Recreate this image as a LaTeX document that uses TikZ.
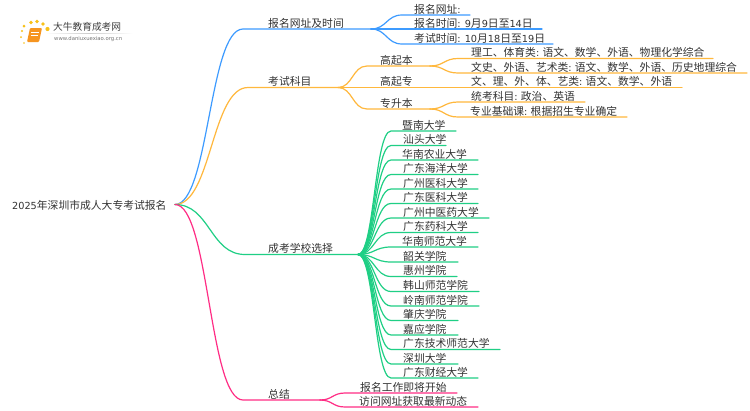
\documentclass[tikz,border=0pt]{standalone}
\usepackage{fontspec}
\usetikzlibrary{calc}
\setmainfont{Noto Sans CJK SC}
\newfontfamily\lat[Scale=0.9]{DejaVu Sans}
\newfontfamily\latlogo{DejaVu Sans}
\definecolor{cblue}{HTML}{3D9BFF}
\definecolor{corange}{HTML}{FFB83D}
\definecolor{cgreen}{HTML}{1FCF85}
\definecolor{cpink}{HTML}{FF2D85}
\definecolor{ctext}{HTML}{333333}
\definecolor{clogo}{HTML}{F5A623}
\tikzset{
  lab/.style={anchor=west,inner sep=0pt,text=ctext,font=\fontsize{10.8}{12}\selectfont},
  linkline/.style={line width=1.2pt,line cap=round},
  logodot/.style={circle,fill=clogo!70!yellow,draw=none,inner sep=0pt},
}
\newcommand{\brn}[8]{%
  \node[lab] (#1) at (#6,#4-6) {#7};
  \coordinate (#1-a) at (#3,#4);
  \coordinate (#1-b) at (#5,#4);
  \draw[linkline,#8] let \p1=(#2-b),\p2=(#1-a),\n1={0.5*(\x2-\x1)} in
    (#2-b) .. controls ($(#2-b)+(\n1,0)$) and ($(#1-a)-(\n1,0)$) .. (#1-a) -- (#1-b);
}
\begin{document}
\begin{tikzpicture}[x=1pt,y=-1pt]
\useasboundingbox (0,0) rectangle (750,410);
\fill[white] (0,0) rectangle (750,410);
% logo
\foreach \nm/\px/\py/\sz in {d1/24/26/3,d2/31/22.5/3.6,d3/37/21.5/3.8,d4/43/24/3.8,d5/47.5/29/4.2,d6/22/31/2.4,d7/21/37/2,d8/24/43/1.8}
  \node[logodot,minimum size=\sz pt] (\nm) at (\px,\py) {};
\fill[rounded corners=1pt,clogo!90!red] (30,28) -- (42,28) -- (39,42) -- (27,42) -- cycle;
\draw[white,line width=0.7pt] (31,32) -- (38.5,32) (30.5,35) -- (38,35);
\shade[left color=white,right color=white,middle color=black!20] (45,33) rectangle (133,33.6);
\node[anchor=west,inner sep=0pt,text=black!75,font=\fontsize{9.7}{11}\selectfont] (logot) at (53,27) {大牛教育成考网};
\node[anchor=west,inner sep=0pt,text=black!55,font=\latlogo\fontsize{5.3}{6}\selectfont] (logou) at (54,38.6) {www.daniuxuexiao.org.cn};
% root
\node[lab] (root) at (12,205) {{\lat 2025}年深圳市成人大专考试报名};
\coordinate (root-b) at (175,204.5);
% level 1
\brn{a}{root}{243}{29}{371}{268}{报名网址及时间}{cblue}
\brn{b}{root}{248}{87.5}{338}{268}{考试科目}{corange}
\brn{c}{root}{245}{254.5}{358}{268}{成考学校选择}{cgreen}
\brn{d}{root}{243}{400}{320}{268}{总结}{cpink}
% blue leaves
\brn{a1}{a}{402}{15}{470}{414}{报名网址{\lat :}}{cblue}
\brn{a2}{a}{402}{29}{542}{414}{报名时间{\lat : 9}月{\lat 9}日至{\lat 14}日}{cblue}
\brn{a3}{a}{402}{44}{553}{414}{考试时间{\lat : 10}月{\lat 18}日至{\lat 19}日}{cblue}
% orange level 2
\brn{b1}{b}{367}{66}{430}{380}{高起本}{corange}
\brn{b2}{b}{367}{87.5}{430}{380}{高起专}{corange}
\brn{b3}{b}{367}{109}{430}{380}{专升本}{corange}
\brn{b11}{b1}{458}{58.5}{713}{471}{理工、体育类{\lat :} 语文、数学、外语、物理化学综合}{corange}
\brn{b12}{b1}{458}{73}{747}{471}{文史、外语、艺术类{\lat :} 语文、数学、外语、历史地理综合}{corange}
\brn{b21}{b2}{458}{87.5}{682}{471}{文、理、外、体、艺类{\lat :} 语文、数学、外语}{corange}
\brn{b31}{b3}{458}{102}{585}{471}{统考科目{\lat :} 政治、英语}{corange}
\brn{b32}{b3}{458}{117}{627}{470}{专业基础课{\lat :} 根据招生专业确定}{corange}
% schools
\brn{s1}{c}{391}{131}{456}{402}{暨南大学}{cgreen}
\brn{s2}{c}{391}{145.5}{446}{403}{汕头大学}{cgreen}
\brn{s3}{c}{391}{160}{478}{402}{华南农业大学}{cgreen}
\brn{s4}{c}{391}{174.5}{478}{403}{广东海洋大学}{cgreen}
\brn{s5}{c}{391}{189}{478}{403}{广州医科大学}{cgreen}
\brn{s6}{c}{391}{203.5}{478}{403}{广东医科大学}{cgreen}
\brn{s7}{c}{391}{218}{489}{403}{广州中医药大学}{cgreen}
\brn{s8}{c}{391}{232.5}{478}{403}{广东药科大学}{cgreen}
\brn{s9}{c}{391}{247}{478}{402}{华南师范大学}{cgreen}
\brn{s10}{c}{391}{262}{458}{403}{韶关学院}{cgreen}
\brn{s11}{c}{391}{276.5}{457}{403}{惠州学院}{cgreen}
\brn{s12}{c}{391}{291.5}{479}{403}{韩山师范学院}{cgreen}
\brn{s13}{c}{391}{306}{479}{403}{岭南师范学院}{cgreen}
\brn{s14}{c}{391}{320.5}{458}{403}{肇庆学院}{cgreen}
\brn{s15}{c}{391}{335}{458}{403}{嘉应学院}{cgreen}
\brn{s16}{c}{391}{349.5}{500}{403}{广东技术师范大学}{cgreen}
\brn{s17}{c}{391}{364}{458}{403}{深圳大学}{cgreen}
\brn{s18}{c}{391}{378}{478}{403}{广东财经大学}{cgreen}
% summary
\brn{d1}{d}{345}{393}{457}{360}{报名工作即将开始}{cpink}
\brn{d2}{d}{345}{407}{478}{359}{访问网址获取最新动态}{cpink}
\end{tikzpicture}
\end{document}
